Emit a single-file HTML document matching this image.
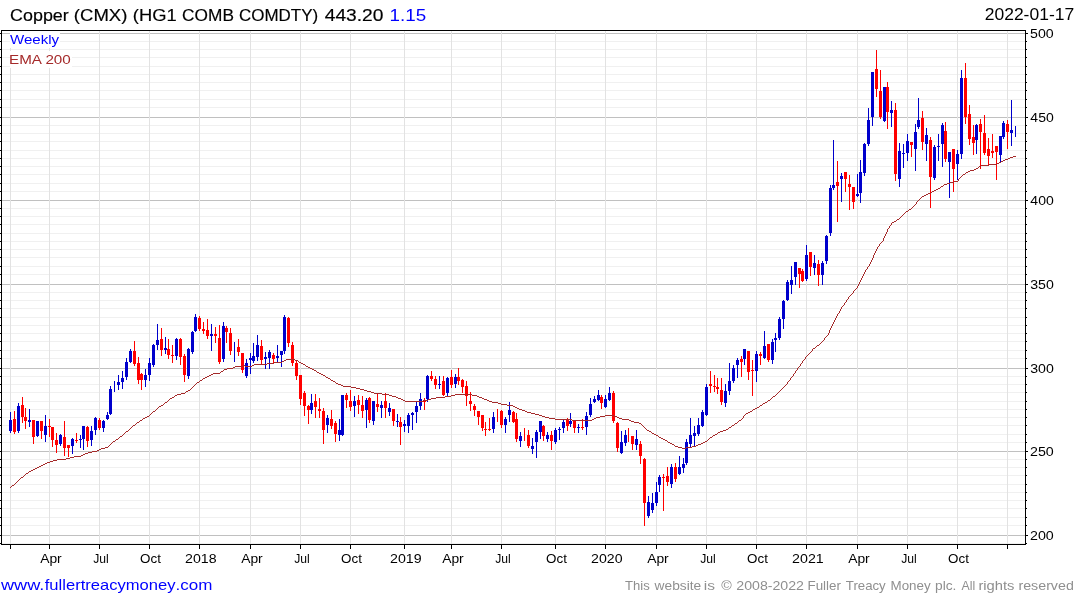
<!DOCTYPE html>
<html><head><meta charset="utf-8"><title>Copper (CMX)</title>
<style>
html,body{margin:0;padding:0;background:#fff;}
body{width:1075px;height:600px;overflow:hidden;}
svg{display:block;}
text{font-family:"Liberation Sans",sans-serif;}
</style></head><body>
<svg width="1075" height="600" viewBox="0 0 1075 600">
<rect width="1075" height="600" fill="#fff"/>
<g shape-rendering="crispEdges">
<rect x="2" y="41" width="1023" height="1" fill="#f0f0f0"/>
<rect x="2" y="49" width="1023" height="1" fill="#f0f0f0"/>
<rect x="2" y="57" width="1023" height="1" fill="#f0f0f0"/>
<rect x="2" y="66" width="1023" height="1" fill="#f0f0f0"/>
<rect x="2" y="74" width="1023" height="1" fill="#f0f0f0"/>
<rect x="2" y="82" width="1023" height="1" fill="#f0f0f0"/>
<rect x="2" y="90" width="1023" height="1" fill="#f0f0f0"/>
<rect x="2" y="99" width="1023" height="1" fill="#f0f0f0"/>
<rect x="2" y="107" width="1023" height="1" fill="#f0f0f0"/>
<rect x="2" y="125" width="1023" height="1" fill="#f0f0f0"/>
<rect x="2" y="133" width="1023" height="1" fill="#f0f0f0"/>
<rect x="2" y="141" width="1023" height="1" fill="#f0f0f0"/>
<rect x="2" y="150" width="1023" height="1" fill="#f0f0f0"/>
<rect x="2" y="158" width="1023" height="1" fill="#f0f0f0"/>
<rect x="2" y="166" width="1023" height="1" fill="#f0f0f0"/>
<rect x="2" y="174" width="1023" height="1" fill="#f0f0f0"/>
<rect x="2" y="183" width="1023" height="1" fill="#f0f0f0"/>
<rect x="2" y="191" width="1023" height="1" fill="#f0f0f0"/>
<rect x="2" y="208" width="1023" height="1" fill="#f0f0f0"/>
<rect x="2" y="216" width="1023" height="1" fill="#f0f0f0"/>
<rect x="2" y="224" width="1023" height="1" fill="#f0f0f0"/>
<rect x="2" y="233" width="1023" height="1" fill="#f0f0f0"/>
<rect x="2" y="241" width="1023" height="1" fill="#f0f0f0"/>
<rect x="2" y="249" width="1023" height="1" fill="#f0f0f0"/>
<rect x="2" y="257" width="1023" height="1" fill="#f0f0f0"/>
<rect x="2" y="266" width="1023" height="1" fill="#f0f0f0"/>
<rect x="2" y="274" width="1023" height="1" fill="#f0f0f0"/>
<rect x="2" y="292" width="1023" height="1" fill="#f0f0f0"/>
<rect x="2" y="300" width="1023" height="1" fill="#f0f0f0"/>
<rect x="2" y="308" width="1023" height="1" fill="#f0f0f0"/>
<rect x="2" y="317" width="1023" height="1" fill="#f0f0f0"/>
<rect x="2" y="325" width="1023" height="1" fill="#f0f0f0"/>
<rect x="2" y="333" width="1023" height="1" fill="#f0f0f0"/>
<rect x="2" y="341" width="1023" height="1" fill="#f0f0f0"/>
<rect x="2" y="350" width="1023" height="1" fill="#f0f0f0"/>
<rect x="2" y="358" width="1023" height="1" fill="#f0f0f0"/>
<rect x="2" y="376" width="1023" height="1" fill="#f0f0f0"/>
<rect x="2" y="384" width="1023" height="1" fill="#f0f0f0"/>
<rect x="2" y="392" width="1023" height="1" fill="#f0f0f0"/>
<rect x="2" y="401" width="1023" height="1" fill="#f0f0f0"/>
<rect x="2" y="409" width="1023" height="1" fill="#f0f0f0"/>
<rect x="2" y="417" width="1023" height="1" fill="#f0f0f0"/>
<rect x="2" y="425" width="1023" height="1" fill="#f0f0f0"/>
<rect x="2" y="434" width="1023" height="1" fill="#f0f0f0"/>
<rect x="2" y="442" width="1023" height="1" fill="#f0f0f0"/>
<rect x="2" y="459" width="1023" height="1" fill="#f0f0f0"/>
<rect x="2" y="467" width="1023" height="1" fill="#f0f0f0"/>
<rect x="2" y="475" width="1023" height="1" fill="#f0f0f0"/>
<rect x="2" y="484" width="1023" height="1" fill="#f0f0f0"/>
<rect x="2" y="492" width="1023" height="1" fill="#f0f0f0"/>
<rect x="2" y="500" width="1023" height="1" fill="#f0f0f0"/>
<rect x="2" y="508" width="1023" height="1" fill="#f0f0f0"/>
<rect x="2" y="517" width="1023" height="1" fill="#f0f0f0"/>
<rect x="2" y="525" width="1023" height="1" fill="#f0f0f0"/>
<rect x="2" y="543" width="1023" height="1" fill="#f0f0f0"/>
<rect x="2" y="33" width="1023" height="1" fill="#c0c0c0"/>
<rect x="2" y="117" width="1023" height="1" fill="#c0c0c0"/>
<rect x="2" y="200" width="1023" height="1" fill="#c0c0c0"/>
<rect x="2" y="284" width="1023" height="1" fill="#c0c0c0"/>
<rect x="2" y="368" width="1023" height="1" fill="#c0c0c0"/>
<rect x="2" y="451" width="1023" height="1" fill="#c0c0c0"/>
<rect x="2" y="535" width="1023" height="1" fill="#c0c0c0"/>
<rect x="10" y="31" width="1" height="513" fill="#e2e2e2"/>
<rect x="49" y="31" width="1" height="513" fill="#e2e2e2"/>
<rect x="99" y="31" width="1" height="513" fill="#e2e2e2"/>
<rect x="149" y="31" width="1" height="513" fill="#e2e2e2"/>
<rect x="199" y="31" width="1" height="513" fill="#e2e2e2"/>
<rect x="250" y="31" width="1" height="513" fill="#e2e2e2"/>
<rect x="300" y="31" width="1" height="513" fill="#e2e2e2"/>
<rect x="350" y="31" width="1" height="513" fill="#e2e2e2"/>
<rect x="404" y="31" width="1" height="513" fill="#e2e2e2"/>
<rect x="451" y="31" width="1" height="513" fill="#e2e2e2"/>
<rect x="501" y="31" width="1" height="513" fill="#e2e2e2"/>
<rect x="555" y="31" width="1" height="513" fill="#e2e2e2"/>
<rect x="605" y="31" width="1" height="513" fill="#e2e2e2"/>
<rect x="656" y="31" width="1" height="513" fill="#e2e2e2"/>
<rect x="706" y="31" width="1" height="513" fill="#e2e2e2"/>
<rect x="756" y="31" width="1" height="513" fill="#e2e2e2"/>
<rect x="806" y="31" width="1" height="513" fill="#e2e2e2"/>
<rect x="857" y="31" width="1" height="513" fill="#e2e2e2"/>
<rect x="907" y="31" width="1" height="513" fill="#e2e2e2"/>
<rect x="957" y="31" width="1" height="513" fill="#e2e2e2"/>
<rect x="1007" y="31" width="1" height="513" fill="#e2e2e2"/>
</g>
<g shape-rendering="crispEdges">
<rect x="10" y="412" width="1" height="21" fill="#0000cc"/>
<rect x="9" y="420" width="3" height="11" fill="#0000cc"/>
<rect x="14" y="411" width="1" height="23" fill="#ff0000"/>
<rect x="13" y="419" width="3" height="13" fill="#ff0000"/>
<rect x="18" y="403" width="1" height="30" fill="#0000cc"/>
<rect x="17" y="406" width="3" height="25" fill="#0000cc"/>
<rect x="22" y="397" width="1" height="26" fill="#ff0000"/>
<rect x="21" y="405" width="3" height="12" fill="#ff0000"/>
<rect x="25" y="408" width="1" height="21" fill="#ff0000"/>
<rect x="24" y="417" width="3" height="4" fill="#ff0000"/>
<rect x="29" y="409" width="1" height="18" fill="#0000cc"/>
<rect x="28" y="420" width="3" height="2" fill="#0000cc"/>
<rect x="33" y="420" width="1" height="24" fill="#ff0000"/>
<rect x="32" y="420" width="3" height="17" fill="#ff0000"/>
<rect x="37" y="421" width="1" height="16" fill="#0000cc"/>
<rect x="36" y="421" width="3" height="15" fill="#0000cc"/>
<rect x="41" y="421" width="1" height="18" fill="#ff0000"/>
<rect x="40" y="421" width="3" height="10" fill="#ff0000"/>
<rect x="45" y="415" width="1" height="27" fill="#0000cc"/>
<rect x="44" y="426" width="3" height="9" fill="#0000cc"/>
<rect x="49" y="419" width="1" height="18" fill="#ff0000"/>
<rect x="48" y="426" width="3" height="1" fill="#ff0000"/>
<rect x="52" y="427" width="1" height="20" fill="#ff0000"/>
<rect x="51" y="427" width="3" height="13" fill="#ff0000"/>
<rect x="56" y="433" width="1" height="20" fill="#ff0000"/>
<rect x="55" y="440" width="3" height="5" fill="#ff0000"/>
<rect x="60" y="434" width="1" height="12" fill="#0000cc"/>
<rect x="59" y="435" width="3" height="9" fill="#0000cc"/>
<rect x="64" y="421" width="1" height="35" fill="#ff0000"/>
<rect x="63" y="437" width="3" height="11" fill="#ff0000"/>
<rect x="68" y="445" width="1" height="12" fill="#ff0000"/>
<rect x="67" y="445" width="3" height="3" fill="#ff0000"/>
<rect x="72" y="438" width="1" height="16" fill="#0000cc"/>
<rect x="71" y="439" width="3" height="7" fill="#0000cc"/>
<rect x="76" y="433" width="1" height="10" fill="#ff0000"/>
<rect x="75" y="440" width="3" height="1" fill="#ff0000"/>
<rect x="80" y="435" width="1" height="13" fill="#0000cc"/>
<rect x="79" y="439" width="3" height="1" fill="#0000cc"/>
<rect x="83" y="426" width="1" height="24" fill="#0000cc"/>
<rect x="82" y="426" width="3" height="13" fill="#0000cc"/>
<rect x="87" y="426" width="1" height="21" fill="#ff0000"/>
<rect x="86" y="427" width="3" height="14" fill="#ff0000"/>
<rect x="91" y="426" width="1" height="20" fill="#0000cc"/>
<rect x="90" y="431" width="3" height="9" fill="#0000cc"/>
<rect x="95" y="417" width="1" height="18" fill="#0000cc"/>
<rect x="94" y="418" width="3" height="12" fill="#0000cc"/>
<rect x="99" y="418" width="1" height="12" fill="#ff0000"/>
<rect x="98" y="420" width="3" height="8" fill="#ff0000"/>
<rect x="103" y="420" width="1" height="12" fill="#0000cc"/>
<rect x="102" y="421" width="3" height="7" fill="#0000cc"/>
<rect x="107" y="412" width="1" height="8" fill="#0000cc"/>
<rect x="106" y="415" width="3" height="4" fill="#0000cc"/>
<rect x="110" y="386" width="1" height="29" fill="#0000cc"/>
<rect x="109" y="389" width="3" height="25" fill="#0000cc"/>
<rect x="114" y="381" width="1" height="11" fill="#0000cc"/>
<rect x="118" y="375" width="1" height="15" fill="#0000cc"/>
<rect x="117" y="382" width="3" height="3" fill="#0000cc"/>
<rect x="122" y="371" width="1" height="18" fill="#0000cc"/>
<rect x="121" y="378" width="3" height="4" fill="#0000cc"/>
<rect x="126" y="358" width="1" height="22" fill="#0000cc"/>
<rect x="125" y="362" width="3" height="15" fill="#0000cc"/>
<rect x="130" y="349" width="1" height="14" fill="#0000cc"/>
<rect x="129" y="351" width="3" height="11" fill="#0000cc"/>
<rect x="134" y="341" width="1" height="25" fill="#ff0000"/>
<rect x="133" y="351" width="3" height="13" fill="#ff0000"/>
<rect x="138" y="357" width="1" height="27" fill="#ff0000"/>
<rect x="137" y="363" width="3" height="17" fill="#ff0000"/>
<rect x="141" y="373" width="1" height="17" fill="#ff0000"/>
<rect x="140" y="374" width="3" height="6" fill="#ff0000"/>
<rect x="145" y="369" width="1" height="18" fill="#0000cc"/>
<rect x="144" y="375" width="3" height="5" fill="#0000cc"/>
<rect x="149" y="358" width="1" height="23" fill="#0000cc"/>
<rect x="148" y="363" width="3" height="12" fill="#0000cc"/>
<rect x="153" y="344" width="1" height="23" fill="#0000cc"/>
<rect x="152" y="345" width="3" height="20" fill="#0000cc"/>
<rect x="157" y="324" width="1" height="26" fill="#0000cc"/>
<rect x="156" y="340" width="3" height="5" fill="#0000cc"/>
<rect x="161" y="328" width="1" height="28" fill="#ff0000"/>
<rect x="160" y="339" width="3" height="11" fill="#ff0000"/>
<rect x="165" y="337" width="1" height="17" fill="#0000cc"/>
<rect x="164" y="348" width="3" height="2" fill="#0000cc"/>
<rect x="168" y="339" width="1" height="20" fill="#ff0000"/>
<rect x="167" y="349" width="3" height="6" fill="#ff0000"/>
<rect x="172" y="345" width="1" height="18" fill="#ff0000"/>
<rect x="171" y="355" width="3" height="1" fill="#ff0000"/>
<rect x="176" y="338" width="1" height="22" fill="#0000cc"/>
<rect x="175" y="339" width="3" height="17" fill="#0000cc"/>
<rect x="180" y="338" width="1" height="27" fill="#ff0000"/>
<rect x="179" y="339" width="3" height="18" fill="#ff0000"/>
<rect x="184" y="354" width="1" height="28" fill="#ff0000"/>
<rect x="183" y="356" width="3" height="19" fill="#ff0000"/>
<rect x="188" y="348" width="1" height="31" fill="#0000cc"/>
<rect x="187" y="349" width="3" height="27" fill="#0000cc"/>
<rect x="192" y="331" width="1" height="23" fill="#0000cc"/>
<rect x="191" y="332" width="3" height="20" fill="#0000cc"/>
<rect x="195" y="314" width="1" height="18" fill="#0000cc"/>
<rect x="194" y="317" width="3" height="14" fill="#0000cc"/>
<rect x="199" y="316" width="1" height="15" fill="#ff0000"/>
<rect x="198" y="318" width="3" height="11" fill="#ff0000"/>
<rect x="203" y="322" width="1" height="12" fill="#ff0000"/>
<rect x="202" y="329" width="3" height="2" fill="#ff0000"/>
<rect x="207" y="319" width="1" height="20" fill="#ff0000"/>
<rect x="206" y="330" width="3" height="6" fill="#ff0000"/>
<rect x="211" y="324" width="1" height="27" fill="#0000cc"/>
<rect x="210" y="334" width="3" height="2" fill="#0000cc"/>
<rect x="215" y="327" width="1" height="16" fill="#ff0000"/>
<rect x="214" y="334" width="3" height="2" fill="#ff0000"/>
<rect x="219" y="325" width="1" height="39" fill="#ff0000"/>
<rect x="218" y="338" width="3" height="24" fill="#ff0000"/>
<rect x="223" y="322" width="1" height="40" fill="#0000cc"/>
<rect x="222" y="326" width="3" height="33" fill="#0000cc"/>
<rect x="226" y="326" width="1" height="17" fill="#ff0000"/>
<rect x="225" y="328" width="3" height="4" fill="#ff0000"/>
<rect x="230" y="328" width="1" height="27" fill="#ff0000"/>
<rect x="229" y="333" width="3" height="18" fill="#ff0000"/>
<rect x="234" y="342" width="1" height="20" fill="#0000cc"/>
<rect x="238" y="339" width="1" height="17" fill="#ff0000"/>
<rect x="237" y="347" width="3" height="5" fill="#ff0000"/>
<rect x="242" y="353" width="1" height="20" fill="#ff0000"/>
<rect x="241" y="353" width="3" height="17" fill="#ff0000"/>
<rect x="246" y="359" width="1" height="19" fill="#0000cc"/>
<rect x="245" y="363" width="3" height="13" fill="#0000cc"/>
<rect x="250" y="353" width="1" height="21" fill="#0000cc"/>
<rect x="249" y="358" width="3" height="2" fill="#0000cc"/>
<rect x="253" y="343" width="1" height="20" fill="#0000cc"/>
<rect x="252" y="356" width="3" height="5" fill="#0000cc"/>
<rect x="257" y="335" width="1" height="26" fill="#0000cc"/>
<rect x="256" y="345" width="3" height="12" fill="#0000cc"/>
<rect x="261" y="340" width="1" height="24" fill="#ff0000"/>
<rect x="260" y="346" width="3" height="14" fill="#ff0000"/>
<rect x="265" y="352" width="1" height="17" fill="#0000cc"/>
<rect x="264" y="357" width="3" height="2" fill="#0000cc"/>
<rect x="269" y="350" width="1" height="19" fill="#0000cc"/>
<rect x="268" y="352" width="3" height="6" fill="#0000cc"/>
<rect x="273" y="353" width="1" height="11" fill="#ff0000"/>
<rect x="272" y="355" width="3" height="4" fill="#ff0000"/>
<rect x="277" y="345" width="1" height="17" fill="#0000cc"/>
<rect x="276" y="356" width="3" height="2" fill="#0000cc"/>
<rect x="281" y="351" width="1" height="16" fill="#0000cc"/>
<rect x="280" y="351" width="3" height="4" fill="#0000cc"/>
<rect x="284" y="315" width="1" height="39" fill="#0000cc"/>
<rect x="283" y="317" width="3" height="34" fill="#0000cc"/>
<rect x="288" y="317" width="1" height="30" fill="#ff0000"/>
<rect x="287" y="318" width="3" height="25" fill="#ff0000"/>
<rect x="292" y="342" width="1" height="24" fill="#ff0000"/>
<rect x="291" y="345" width="3" height="18" fill="#ff0000"/>
<rect x="296" y="361" width="1" height="19" fill="#ff0000"/>
<rect x="295" y="363" width="3" height="13" fill="#ff0000"/>
<rect x="300" y="375" width="1" height="30" fill="#ff0000"/>
<rect x="299" y="375" width="3" height="24" fill="#ff0000"/>
<rect x="304" y="391" width="1" height="25" fill="#ff0000"/>
<rect x="303" y="393" width="3" height="13" fill="#ff0000"/>
<rect x="308" y="405" width="1" height="19" fill="#ff0000"/>
<rect x="307" y="406" width="3" height="4" fill="#ff0000"/>
<rect x="311" y="394" width="1" height="20" fill="#0000cc"/>
<rect x="310" y="403" width="3" height="7" fill="#0000cc"/>
<rect x="315" y="394" width="1" height="24" fill="#ff0000"/>
<rect x="314" y="401" width="3" height="6" fill="#ff0000"/>
<rect x="319" y="398" width="1" height="20" fill="#ff0000"/>
<rect x="318" y="409" width="3" height="2" fill="#ff0000"/>
<rect x="323" y="408" width="1" height="36" fill="#ff0000"/>
<rect x="322" y="411" width="3" height="19" fill="#ff0000"/>
<rect x="327" y="415" width="1" height="18" fill="#0000cc"/>
<rect x="326" y="418" width="3" height="7" fill="#0000cc"/>
<rect x="331" y="410" width="1" height="19" fill="#ff0000"/>
<rect x="330" y="419" width="3" height="7" fill="#ff0000"/>
<rect x="335" y="421" width="1" height="21" fill="#ff0000"/>
<rect x="334" y="423" width="3" height="11" fill="#ff0000"/>
<rect x="339" y="419" width="1" height="22" fill="#0000cc"/>
<rect x="338" y="430" width="3" height="5" fill="#0000cc"/>
<rect x="342" y="395" width="1" height="41" fill="#0000cc"/>
<rect x="341" y="395" width="3" height="40" fill="#0000cc"/>
<rect x="346" y="393" width="1" height="15" fill="#ff0000"/>
<rect x="345" y="395" width="3" height="5" fill="#ff0000"/>
<rect x="350" y="390" width="1" height="21" fill="#ff0000"/>
<rect x="349" y="401" width="3" height="6" fill="#ff0000"/>
<rect x="354" y="396" width="1" height="21" fill="#0000cc"/>
<rect x="353" y="401" width="3" height="5" fill="#0000cc"/>
<rect x="358" y="395" width="1" height="19" fill="#ff0000"/>
<rect x="357" y="400" width="3" height="5" fill="#ff0000"/>
<rect x="362" y="396" width="1" height="22" fill="#ff0000"/>
<rect x="361" y="405" width="3" height="6" fill="#ff0000"/>
<rect x="366" y="398" width="1" height="30" fill="#0000cc"/>
<rect x="365" y="400" width="3" height="10" fill="#0000cc"/>
<rect x="369" y="397" width="1" height="26" fill="#ff0000"/>
<rect x="368" y="398" width="3" height="22" fill="#ff0000"/>
<rect x="373" y="401" width="1" height="24" fill="#0000cc"/>
<rect x="372" y="401" width="3" height="20" fill="#0000cc"/>
<rect x="377" y="394" width="1" height="18" fill="#ff0000"/>
<rect x="376" y="404" width="3" height="3" fill="#ff0000"/>
<rect x="381" y="401" width="1" height="17" fill="#0000cc"/>
<rect x="380" y="405" width="3" height="3" fill="#0000cc"/>
<rect x="385" y="393" width="1" height="25" fill="#ff0000"/>
<rect x="384" y="401" width="3" height="7" fill="#ff0000"/>
<rect x="389" y="403" width="1" height="13" fill="#0000cc"/>
<rect x="388" y="408" width="3" height="4" fill="#0000cc"/>
<rect x="393" y="409" width="1" height="17" fill="#ff0000"/>
<rect x="392" y="409" width="3" height="12" fill="#ff0000"/>
<rect x="397" y="414" width="1" height="13" fill="#0000cc"/>
<rect x="396" y="421" width="3" height="1" fill="#0000cc"/>
<rect x="400" y="417" width="1" height="28" fill="#ff0000"/>
<rect x="399" y="422" width="3" height="5" fill="#ff0000"/>
<rect x="404" y="420" width="1" height="12" fill="#0000cc"/>
<rect x="403" y="424" width="3" height="2" fill="#0000cc"/>
<rect x="408" y="413" width="1" height="20" fill="#0000cc"/>
<rect x="407" y="415" width="3" height="11" fill="#0000cc"/>
<rect x="412" y="412" width="1" height="18" fill="#0000cc"/>
<rect x="411" y="413" width="3" height="2" fill="#0000cc"/>
<rect x="416" y="402" width="1" height="21" fill="#0000cc"/>
<rect x="415" y="406" width="3" height="6" fill="#0000cc"/>
<rect x="420" y="393" width="1" height="17" fill="#0000cc"/>
<rect x="419" y="399" width="3" height="7" fill="#0000cc"/>
<rect x="424" y="398" width="1" height="12" fill="#ff0000"/>
<rect x="423" y="400" width="3" height="2" fill="#ff0000"/>
<rect x="427" y="375" width="1" height="27" fill="#0000cc"/>
<rect x="426" y="376" width="3" height="23" fill="#0000cc"/>
<rect x="431" y="371" width="1" height="10" fill="#ff0000"/>
<rect x="430" y="376" width="3" height="3" fill="#ff0000"/>
<rect x="435" y="376" width="1" height="13" fill="#ff0000"/>
<rect x="434" y="379" width="3" height="6" fill="#ff0000"/>
<rect x="439" y="376" width="1" height="13" fill="#0000cc"/>
<rect x="438" y="384" width="3" height="1" fill="#0000cc"/>
<rect x="443" y="376" width="1" height="20" fill="#ff0000"/>
<rect x="442" y="381" width="3" height="14" fill="#ff0000"/>
<rect x="447" y="377" width="1" height="20" fill="#0000cc"/>
<rect x="446" y="378" width="3" height="15" fill="#0000cc"/>
<rect x="451" y="370" width="1" height="18" fill="#ff0000"/>
<rect x="450" y="377" width="3" height="8" fill="#ff0000"/>
<rect x="455" y="374" width="1" height="14" fill="#0000cc"/>
<rect x="454" y="377" width="3" height="7" fill="#0000cc"/>
<rect x="458" y="368" width="1" height="17" fill="#ff0000"/>
<rect x="457" y="377" width="3" height="4" fill="#ff0000"/>
<rect x="462" y="379" width="1" height="14" fill="#ff0000"/>
<rect x="461" y="380" width="3" height="7" fill="#ff0000"/>
<rect x="466" y="381" width="1" height="25" fill="#ff0000"/>
<rect x="465" y="386" width="3" height="10" fill="#ff0000"/>
<rect x="470" y="392" width="1" height="19" fill="#ff0000"/>
<rect x="469" y="401" width="3" height="3" fill="#ff0000"/>
<rect x="474" y="404" width="1" height="12" fill="#ff0000"/>
<rect x="473" y="406" width="3" height="4" fill="#ff0000"/>
<rect x="478" y="411" width="1" height="14" fill="#ff0000"/>
<rect x="477" y="411" width="3" height="6" fill="#ff0000"/>
<rect x="482" y="415" width="1" height="16" fill="#ff0000"/>
<rect x="481" y="415" width="3" height="13" fill="#ff0000"/>
<rect x="485" y="422" width="1" height="14" fill="#ff0000"/>
<rect x="484" y="429" width="3" height="1" fill="#ff0000"/>
<rect x="489" y="418" width="1" height="13" fill="#ff0000"/>
<rect x="488" y="429" width="3" height="1" fill="#ff0000"/>
<rect x="493" y="412" width="1" height="21" fill="#0000cc"/>
<rect x="492" y="417" width="3" height="12" fill="#0000cc"/>
<rect x="497" y="409" width="1" height="13" fill="#ff0000"/>
<rect x="501" y="410" width="1" height="18" fill="#ff0000"/>
<rect x="500" y="411" width="3" height="14" fill="#ff0000"/>
<rect x="505" y="417" width="1" height="16" fill="#0000cc"/>
<rect x="504" y="419" width="3" height="6" fill="#0000cc"/>
<rect x="509" y="402" width="1" height="20" fill="#0000cc"/>
<rect x="508" y="410" width="3" height="5" fill="#0000cc"/>
<rect x="513" y="411" width="1" height="12" fill="#ff0000"/>
<rect x="512" y="412" width="3" height="10" fill="#ff0000"/>
<rect x="516" y="413" width="1" height="29" fill="#ff0000"/>
<rect x="515" y="419" width="3" height="20" fill="#ff0000"/>
<rect x="520" y="432" width="1" height="15" fill="#0000cc"/>
<rect x="519" y="436" width="3" height="5" fill="#0000cc"/>
<rect x="524" y="428" width="1" height="13" fill="#ff0000"/>
<rect x="528" y="430" width="1" height="18" fill="#ff0000"/>
<rect x="527" y="435" width="3" height="11" fill="#ff0000"/>
<rect x="532" y="438" width="1" height="16" fill="#0000cc"/>
<rect x="531" y="446" width="3" height="3" fill="#0000cc"/>
<rect x="536" y="430" width="1" height="28" fill="#0000cc"/>
<rect x="535" y="432" width="3" height="10" fill="#0000cc"/>
<rect x="540" y="421" width="1" height="18" fill="#0000cc"/>
<rect x="539" y="421" width="3" height="11" fill="#0000cc"/>
<rect x="543" y="425" width="1" height="16" fill="#ff0000"/>
<rect x="542" y="426" width="3" height="10" fill="#ff0000"/>
<rect x="547" y="432" width="1" height="10" fill="#0000cc"/>
<rect x="546" y="435" width="3" height="4" fill="#0000cc"/>
<rect x="551" y="431" width="1" height="19" fill="#ff0000"/>
<rect x="550" y="435" width="3" height="6" fill="#ff0000"/>
<rect x="555" y="428" width="1" height="16" fill="#0000cc"/>
<rect x="554" y="430" width="3" height="12" fill="#0000cc"/>
<rect x="559" y="427" width="1" height="13" fill="#0000cc"/>
<rect x="558" y="429" width="3" height="1" fill="#0000cc"/>
<rect x="563" y="420" width="1" height="13" fill="#0000cc"/>
<rect x="562" y="422" width="3" height="6" fill="#0000cc"/>
<rect x="567" y="418" width="1" height="13" fill="#ff0000"/>
<rect x="566" y="419" width="3" height="7" fill="#ff0000"/>
<rect x="570" y="413" width="1" height="14" fill="#0000cc"/>
<rect x="569" y="421" width="3" height="3" fill="#0000cc"/>
<rect x="574" y="421" width="1" height="12" fill="#ff0000"/>
<rect x="573" y="421" width="3" height="7" fill="#ff0000"/>
<rect x="578" y="424" width="1" height="9" fill="#0000cc"/>
<rect x="577" y="427" width="3" height="1" fill="#0000cc"/>
<rect x="582" y="419" width="1" height="11" fill="#ff0000"/>
<rect x="581" y="427" width="3" height="1" fill="#ff0000"/>
<rect x="586" y="412" width="1" height="23" fill="#0000cc"/>
<rect x="585" y="416" width="3" height="11" fill="#0000cc"/>
<rect x="590" y="398" width="1" height="19" fill="#0000cc"/>
<rect x="589" y="404" width="3" height="11" fill="#0000cc"/>
<rect x="594" y="396" width="1" height="7" fill="#0000cc"/>
<rect x="593" y="399" width="3" height="3" fill="#0000cc"/>
<rect x="598" y="390" width="1" height="11" fill="#0000cc"/>
<rect x="597" y="395" width="3" height="5" fill="#0000cc"/>
<rect x="601" y="395" width="1" height="14" fill="#ff0000"/>
<rect x="600" y="397" width="3" height="6" fill="#ff0000"/>
<rect x="605" y="395" width="1" height="13" fill="#0000cc"/>
<rect x="604" y="399" width="3" height="8" fill="#0000cc"/>
<rect x="609" y="387" width="1" height="14" fill="#0000cc"/>
<rect x="608" y="393" width="3" height="7" fill="#0000cc"/>
<rect x="613" y="391" width="1" height="32" fill="#ff0000"/>
<rect x="612" y="393" width="3" height="28" fill="#ff0000"/>
<rect x="617" y="422" width="1" height="30" fill="#ff0000"/>
<rect x="616" y="423" width="3" height="25" fill="#ff0000"/>
<rect x="621" y="431" width="1" height="23" fill="#0000cc"/>
<rect x="620" y="442" width="3" height="11" fill="#0000cc"/>
<rect x="625" y="430" width="1" height="16" fill="#0000cc"/>
<rect x="624" y="435" width="3" height="8" fill="#0000cc"/>
<rect x="628" y="428" width="1" height="14" fill="#ff0000"/>
<rect x="632" y="436" width="1" height="14" fill="#ff0000"/>
<rect x="631" y="436" width="3" height="8" fill="#ff0000"/>
<rect x="636" y="430" width="1" height="20" fill="#0000cc"/>
<rect x="635" y="439" width="3" height="6" fill="#0000cc"/>
<rect x="640" y="441" width="1" height="23" fill="#ff0000"/>
<rect x="639" y="444" width="3" height="12" fill="#ff0000"/>
<rect x="644" y="458" width="1" height="68" fill="#ff0000"/>
<rect x="643" y="459" width="3" height="44" fill="#ff0000"/>
<rect x="648" y="496" width="1" height="22" fill="#0000cc"/>
<rect x="647" y="502" width="3" height="14" fill="#0000cc"/>
<rect x="652" y="493" width="1" height="20" fill="#0000cc"/>
<rect x="651" y="503" width="3" height="7" fill="#0000cc"/>
<rect x="656" y="482" width="1" height="24" fill="#0000cc"/>
<rect x="655" y="492" width="3" height="11" fill="#0000cc"/>
<rect x="659" y="475" width="1" height="17" fill="#0000cc"/>
<rect x="658" y="477" width="3" height="8" fill="#0000cc"/>
<rect x="663" y="474" width="1" height="37" fill="#ff0000"/>
<rect x="662" y="477" width="3" height="1" fill="#ff0000"/>
<rect x="667" y="467" width="1" height="19" fill="#ff0000"/>
<rect x="666" y="476" width="3" height="6" fill="#ff0000"/>
<rect x="671" y="464" width="1" height="24" fill="#0000cc"/>
<rect x="670" y="467" width="3" height="17" fill="#0000cc"/>
<rect x="675" y="463" width="1" height="19" fill="#ff0000"/>
<rect x="674" y="467" width="3" height="12" fill="#ff0000"/>
<rect x="679" y="456" width="1" height="19" fill="#0000cc"/>
<rect x="678" y="467" width="3" height="7" fill="#0000cc"/>
<rect x="683" y="458" width="1" height="15" fill="#0000cc"/>
<rect x="682" y="464" width="3" height="4" fill="#0000cc"/>
<rect x="686" y="439" width="1" height="26" fill="#0000cc"/>
<rect x="685" y="442" width="3" height="21" fill="#0000cc"/>
<rect x="690" y="418" width="1" height="29" fill="#0000cc"/>
<rect x="689" y="435" width="3" height="9" fill="#0000cc"/>
<rect x="694" y="426" width="1" height="20" fill="#0000cc"/>
<rect x="693" y="433" width="3" height="3" fill="#0000cc"/>
<rect x="698" y="418" width="1" height="18" fill="#0000cc"/>
<rect x="697" y="425" width="3" height="9" fill="#0000cc"/>
<rect x="702" y="410" width="1" height="17" fill="#0000cc"/>
<rect x="701" y="412" width="3" height="14" fill="#0000cc"/>
<rect x="706" y="384" width="1" height="32" fill="#0000cc"/>
<rect x="705" y="387" width="3" height="28" fill="#0000cc"/>
<rect x="710" y="371" width="1" height="22" fill="#ff0000"/>
<rect x="709" y="384" width="3" height="2" fill="#ff0000"/>
<rect x="714" y="375" width="1" height="17" fill="#ff0000"/>
<rect x="713" y="386" width="3" height="1" fill="#ff0000"/>
<rect x="717" y="378" width="1" height="16" fill="#ff0000"/>
<rect x="716" y="387" width="3" height="2" fill="#ff0000"/>
<rect x="721" y="378" width="1" height="27" fill="#ff0000"/>
<rect x="720" y="390" width="3" height="12" fill="#ff0000"/>
<rect x="725" y="384" width="1" height="23" fill="#0000cc"/>
<rect x="724" y="391" width="3" height="12" fill="#0000cc"/>
<rect x="729" y="363" width="1" height="32" fill="#0000cc"/>
<rect x="728" y="381" width="3" height="10" fill="#0000cc"/>
<rect x="733" y="365" width="1" height="18" fill="#0000cc"/>
<rect x="732" y="368" width="3" height="13" fill="#0000cc"/>
<rect x="737" y="358" width="1" height="20" fill="#0000cc"/>
<rect x="736" y="360" width="3" height="5" fill="#0000cc"/>
<rect x="741" y="356" width="1" height="21" fill="#ff0000"/>
<rect x="740" y="359" width="3" height="3" fill="#ff0000"/>
<rect x="744" y="349" width="1" height="16" fill="#0000cc"/>
<rect x="743" y="349" width="3" height="10" fill="#0000cc"/>
<rect x="748" y="351" width="1" height="29" fill="#ff0000"/>
<rect x="747" y="351" width="3" height="21" fill="#ff0000"/>
<rect x="752" y="360" width="1" height="36" fill="#ff0000"/>
<rect x="751" y="370" width="3" height="1" fill="#ff0000"/>
<rect x="756" y="351" width="1" height="31" fill="#0000cc"/>
<rect x="755" y="354" width="3" height="17" fill="#0000cc"/>
<rect x="760" y="352" width="1" height="13" fill="#ff0000"/>
<rect x="759" y="354" width="3" height="2" fill="#ff0000"/>
<rect x="764" y="331" width="1" height="28" fill="#0000cc"/>
<rect x="763" y="346" width="3" height="12" fill="#0000cc"/>
<rect x="768" y="344" width="1" height="18" fill="#ff0000"/>
<rect x="767" y="344" width="3" height="16" fill="#ff0000"/>
<rect x="772" y="339" width="1" height="25" fill="#0000cc"/>
<rect x="771" y="342" width="3" height="18" fill="#0000cc"/>
<rect x="775" y="333" width="1" height="19" fill="#0000cc"/>
<rect x="774" y="338" width="3" height="2" fill="#0000cc"/>
<rect x="779" y="317" width="1" height="23" fill="#0000cc"/>
<rect x="778" y="319" width="3" height="19" fill="#0000cc"/>
<rect x="783" y="300" width="1" height="29" fill="#0000cc"/>
<rect x="782" y="301" width="3" height="18" fill="#0000cc"/>
<rect x="787" y="280" width="1" height="21" fill="#0000cc"/>
<rect x="786" y="282" width="3" height="18" fill="#0000cc"/>
<rect x="791" y="266" width="1" height="28" fill="#0000cc"/>
<rect x="790" y="280" width="3" height="5" fill="#0000cc"/>
<rect x="795" y="262" width="1" height="23" fill="#0000cc"/>
<rect x="794" y="262" width="3" height="15" fill="#0000cc"/>
<rect x="799" y="268" width="1" height="20" fill="#ff0000"/>
<rect x="798" y="268" width="3" height="6" fill="#ff0000"/>
<rect x="802" y="269" width="1" height="13" fill="#ff0000"/>
<rect x="801" y="271" width="3" height="10" fill="#ff0000"/>
<rect x="806" y="245" width="1" height="36" fill="#0000cc"/>
<rect x="805" y="255" width="3" height="24" fill="#0000cc"/>
<rect x="810" y="252" width="1" height="24" fill="#ff0000"/>
<rect x="809" y="252" width="3" height="15" fill="#ff0000"/>
<rect x="814" y="255" width="1" height="20" fill="#0000cc"/>
<rect x="813" y="263" width="3" height="5" fill="#0000cc"/>
<rect x="818" y="260" width="1" height="26" fill="#ff0000"/>
<rect x="817" y="264" width="3" height="11" fill="#ff0000"/>
<rect x="822" y="261" width="1" height="24" fill="#0000cc"/>
<rect x="821" y="263" width="3" height="12" fill="#0000cc"/>
<rect x="826" y="235" width="1" height="29" fill="#0000cc"/>
<rect x="825" y="236" width="3" height="25" fill="#0000cc"/>
<rect x="830" y="185" width="1" height="51" fill="#0000cc"/>
<rect x="829" y="188" width="3" height="45" fill="#0000cc"/>
<rect x="833" y="140" width="1" height="50" fill="#0000cc"/>
<rect x="832" y="185" width="3" height="3" fill="#0000cc"/>
<rect x="837" y="161" width="1" height="61" fill="#ff0000"/>
<rect x="836" y="182" width="3" height="4" fill="#ff0000"/>
<rect x="841" y="173" width="1" height="29" fill="#0000cc"/>
<rect x="840" y="176" width="3" height="3" fill="#0000cc"/>
<rect x="845" y="172" width="1" height="20" fill="#ff0000"/>
<rect x="844" y="172" width="3" height="7" fill="#ff0000"/>
<rect x="849" y="175" width="1" height="35" fill="#ff0000"/>
<rect x="848" y="184" width="3" height="3" fill="#ff0000"/>
<rect x="853" y="187" width="1" height="22" fill="#ff0000"/>
<rect x="852" y="187" width="3" height="15" fill="#ff0000"/>
<rect x="857" y="174" width="1" height="23" fill="#0000cc"/>
<rect x="856" y="194" width="3" height="2" fill="#0000cc"/>
<rect x="860" y="160" width="1" height="43" fill="#0000cc"/>
<rect x="859" y="172" width="3" height="21" fill="#0000cc"/>
<rect x="864" y="143" width="1" height="33" fill="#0000cc"/>
<rect x="863" y="144" width="3" height="29" fill="#0000cc"/>
<rect x="868" y="108" width="1" height="38" fill="#0000cc"/>
<rect x="867" y="120" width="3" height="24" fill="#0000cc"/>
<rect x="872" y="72" width="1" height="54" fill="#0000cc"/>
<rect x="871" y="72" width="3" height="45" fill="#0000cc"/>
<rect x="876" y="50" width="1" height="47" fill="#ff0000"/>
<rect x="875" y="69" width="3" height="20" fill="#ff0000"/>
<rect x="880" y="70" width="1" height="49" fill="#ff0000"/>
<rect x="879" y="91" width="3" height="26" fill="#ff0000"/>
<rect x="884" y="87" width="1" height="35" fill="#0000cc"/>
<rect x="883" y="87" width="3" height="34" fill="#0000cc"/>
<rect x="887" y="82" width="1" height="47" fill="#ff0000"/>
<rect x="886" y="87" width="3" height="25" fill="#ff0000"/>
<rect x="891" y="101" width="1" height="26" fill="#0000cc"/>
<rect x="890" y="110" width="3" height="3" fill="#0000cc"/>
<rect x="895" y="103" width="1" height="78" fill="#ff0000"/>
<rect x="894" y="110" width="3" height="64" fill="#ff0000"/>
<rect x="899" y="143" width="1" height="44" fill="#0000cc"/>
<rect x="898" y="151" width="3" height="28" fill="#0000cc"/>
<rect x="903" y="144" width="1" height="24" fill="#0000cc"/>
<rect x="902" y="153" width="3" height="1" fill="#0000cc"/>
<rect x="907" y="134" width="1" height="27" fill="#0000cc"/>
<rect x="906" y="141" width="3" height="12" fill="#0000cc"/>
<rect x="911" y="142" width="1" height="15" fill="#ff0000"/>
<rect x="910" y="142" width="3" height="3" fill="#ff0000"/>
<rect x="915" y="124" width="1" height="47" fill="#0000cc"/>
<rect x="914" y="132" width="3" height="17" fill="#0000cc"/>
<rect x="918" y="98" width="1" height="31" fill="#0000cc"/>
<rect x="917" y="120" width="3" height="7" fill="#0000cc"/>
<rect x="922" y="111" width="1" height="39" fill="#ff0000"/>
<rect x="921" y="118" width="3" height="24" fill="#ff0000"/>
<rect x="926" y="128" width="1" height="33" fill="#0000cc"/>
<rect x="925" y="135" width="3" height="9" fill="#0000cc"/>
<rect x="930" y="137" width="1" height="71" fill="#ff0000"/>
<rect x="929" y="140" width="3" height="37" fill="#ff0000"/>
<rect x="934" y="145" width="1" height="35" fill="#0000cc"/>
<rect x="933" y="147" width="3" height="31" fill="#0000cc"/>
<rect x="938" y="134" width="1" height="27" fill="#0000cc"/>
<rect x="937" y="146" width="3" height="1" fill="#0000cc"/>
<rect x="942" y="123" width="1" height="44" fill="#0000cc"/>
<rect x="941" y="125" width="3" height="19" fill="#0000cc"/>
<rect x="945" y="122" width="1" height="40" fill="#ff0000"/>
<rect x="944" y="131" width="3" height="28" fill="#ff0000"/>
<rect x="949" y="152" width="1" height="46" fill="#0000cc"/>
<rect x="948" y="152" width="3" height="10" fill="#0000cc"/>
<rect x="953" y="149" width="1" height="43" fill="#ff0000"/>
<rect x="952" y="149" width="3" height="20" fill="#ff0000"/>
<rect x="957" y="150" width="1" height="30" fill="#0000cc"/>
<rect x="956" y="154" width="3" height="10" fill="#0000cc"/>
<rect x="961" y="70" width="1" height="89" fill="#0000cc"/>
<rect x="960" y="78" width="3" height="76" fill="#0000cc"/>
<rect x="965" y="63" width="1" height="61" fill="#ff0000"/>
<rect x="964" y="78" width="3" height="39" fill="#ff0000"/>
<rect x="969" y="105" width="1" height="40" fill="#ff0000"/>
<rect x="968" y="114" width="3" height="25" fill="#ff0000"/>
<rect x="973" y="125" width="1" height="30" fill="#ff0000"/>
<rect x="972" y="137" width="3" height="6" fill="#ff0000"/>
<rect x="976" y="124" width="1" height="30" fill="#0000cc"/>
<rect x="975" y="125" width="3" height="15" fill="#0000cc"/>
<rect x="980" y="119" width="1" height="50" fill="#ff0000"/>
<rect x="979" y="124" width="3" height="8" fill="#ff0000"/>
<rect x="984" y="115" width="1" height="40" fill="#ff0000"/>
<rect x="983" y="133" width="3" height="20" fill="#ff0000"/>
<rect x="988" y="138" width="1" height="27" fill="#ff0000"/>
<rect x="987" y="149" width="3" height="7" fill="#ff0000"/>
<rect x="992" y="134" width="1" height="24" fill="#ff0000"/>
<rect x="991" y="151" width="3" height="2" fill="#ff0000"/>
<rect x="996" y="146" width="1" height="34" fill="#ff0000"/>
<rect x="995" y="146" width="3" height="6" fill="#ff0000"/>
<rect x="1000" y="136" width="1" height="26" fill="#0000cc"/>
<rect x="999" y="136" width="3" height="19" fill="#0000cc"/>
<rect x="1003" y="121" width="1" height="18" fill="#0000cc"/>
<rect x="1002" y="123" width="3" height="14" fill="#0000cc"/>
<rect x="1007" y="120" width="1" height="29" fill="#ff0000"/>
<rect x="1006" y="124" width="3" height="8" fill="#ff0000"/>
<rect x="1011" y="100" width="1" height="46" fill="#0000cc"/>
<rect x="1010" y="130" width="3" height="3" fill="#0000cc"/>
<rect x="1015" y="126" width="1" height="11" fill="#0000cc"/>
</g>
<path d="M10 487h1v1h-1zM11 486h1v1h-1zM12 485h2v1h-2zM14 484h1v1h-1zM15 483h1v1h-1zM16 482h1v1h-1zM17 481h1v1h-1zM18 480h1v1h-1zM19 479h1v1h-1zM20 478h1v1h-1zM21 477h2v1h-2zM23 476h1v1h-1zM24 475h1v1h-1zM25 474h1v1h-1zM26 473h2v1h-2zM28 472h1v1h-1zM29 471h2v1h-2zM31 470h2v1h-2zM33 469h2v1h-2zM35 468h2v1h-2zM37 467h2v1h-2zM39 466h2v1h-2zM41 465h2v1h-2zM43 464h2v1h-2zM45 463h2v1h-2zM47 462h3v1h-3zM50 461h3v1h-3zM53 460h4v1h-4zM57 459h9v1h-9zM66 458h4v1h-4zM70 457h4v1h-4zM74 456h7v1h-7zM81 455h2v1h-2zM83 454h2v1h-2zM85 453h3v1h-3zM88 452h4v1h-4zM92 451h5v1h-5zM97 450h2v1h-2zM99 449h2v1h-2zM101 448h4v1h-4zM105 447h3v1h-3zM108 446h1v1h-1zM109 445h1v1h-1zM110 444h1v1h-1zM111 443h1v1h-1zM112 442h1v1h-1zM113 441h2v1h-2zM115 440h1v1h-1zM116 439h2v1h-2zM118 438h1v1h-1zM119 437h1v1h-1zM120 436h2v1h-2zM122 435h1v1h-1zM123 434h1v1h-1zM124 433h1v1h-1zM125 432h1v1h-1zM126 431h2v1h-2zM128 430h1v1h-1zM129 429h1v1h-1zM130 428h1v1h-1zM131 427h1v1h-1zM132 426h1v1h-1zM133 425h2v1h-2zM135 424h1v1h-1zM136 423h1v1h-1zM137 422h2v1h-2zM139 421h1v1h-1zM140 420h2v1h-2zM142 419h1v1h-1zM143 418h2v1h-2zM145 417h2v1h-2zM147 416h2v1h-2zM149 415h1v1h-1zM150 414h1v1h-1zM151 413h1v1h-1zM152 412h1v1h-1zM153 411h2v1h-2zM155 410h1v1h-1zM156 409h1v1h-1zM157 408h1v1h-1zM158 407h1v1h-1zM159 406h2v1h-2zM161 405h2v1h-2zM163 404h1v1h-1zM164 403h1v1h-1zM165 402h2v1h-2zM167 401h1v1h-1zM168 400h1v1h-1zM169 399h1v1h-1zM170 398h2v1h-2zM172 397h2v1h-2zM174 396h1v1h-1zM175 395h2v1h-2zM177 394h4v1h-4zM181 393h4v1h-4zM185 392h1v1h-1zM186 391h2v1h-2zM188 390h2v1h-2zM190 389h1v1h-1zM191 388h1v1h-1zM192 387h1v1h-1zM193 386h1v1h-1zM194 385h1v1h-1zM195 384h1v1h-1zM196 383h1v1h-1zM197 382h2v1h-2zM199 381h1v1h-1zM200 380h2v1h-2zM202 379h1v1h-1zM203 378h2v1h-2zM205 377h2v1h-2zM207 376h2v1h-2zM209 375h2v1h-2zM211 374h2v1h-2zM213 373h7v1h-7zM220 372h1v1h-1zM221 371h2v1h-2zM223 370h1v1h-1zM224 369h3v1h-3zM227 368h6v1h-6zM233 367h2v1h-2zM235 366h8v1h-8zM243 365h2v1h-2zM245 366h7v1h-7zM252 365h2v1h-2zM254 364h13v1h-13zM267 363h7v1h-7zM274 362h8v1h-8zM282 361h2v1h-2zM284 360h2v1h-2zM286 359h9v1h-9zM295 360h3v1h-3zM298 361h1v1h-1zM299 362h2v1h-2zM301 363h2v1h-2zM303 364h2v1h-2zM305 365h1v1h-1zM306 366h2v1h-2zM308 367h2v1h-2zM310 368h2v1h-2zM312 369h2v1h-2zM314 370h2v1h-2zM316 371h1v1h-1zM317 372h2v1h-2zM319 373h2v1h-2zM321 374h2v1h-2zM323 375h2v1h-2zM325 376h1v1h-1zM326 377h2v1h-2zM328 378h2v1h-2zM330 379h1v1h-1zM331 380h2v1h-2zM333 381h2v1h-2zM335 382h1v1h-1zM336 383h2v1h-2zM338 384h3v1h-3zM341 385h2v1h-2zM343 386h8v1h-8zM351 387h5v1h-5zM356 388h4v1h-4zM360 389h4v1h-4zM364 390h3v1h-3zM367 391h4v1h-4zM371 392h3v1h-3zM374 393h8v1h-8zM382 394h7v1h-7zM389 395h3v1h-3zM392 396h4v1h-4zM396 397h2v1h-2zM398 398h3v1h-3zM401 399h2v1h-2zM403 400h2v1h-2zM405 401h18v1h-18zM423 400h5v1h-5zM428 399h3v1h-3zM431 398h5v1h-5zM436 397h9v1h-9zM445 396h6v1h-6zM451 395h4v1h-4zM455 394h17v1h-17zM472 395h5v1h-5zM477 396h2v1h-2zM479 397h3v1h-3zM482 398h2v1h-2zM484 399h3v1h-3zM487 400h2v1h-2zM489 401h3v1h-3zM492 402h6v1h-6zM498 403h3v1h-3zM501 404h6v1h-6zM507 405h6v1h-6zM513 406h2v1h-2zM515 407h2v1h-2zM517 408h2v1h-2zM519 409h3v1h-3zM522 410h3v1h-3zM525 411h2v1h-2zM527 412h4v1h-4zM531 413h4v1h-4zM535 414h4v1h-4zM539 415h3v1h-3zM542 416h3v1h-3zM545 417h4v1h-4zM549 418h6v1h-6zM555 419h17v1h-17zM572 420h20v1h-20zM592 419h2v1h-2zM594 418h2v1h-2zM596 417h4v1h-4zM600 416h5v1h-5zM605 415h9v1h-9zM614 416h3v1h-3zM617 417h2v1h-2zM619 418h3v1h-3zM622 419h7v1h-7zM629 420h2v1h-2zM631 421h3v1h-3zM634 422h5v1h-5zM639 423h2v1h-2zM641 424h1v1h-1zM642 425h1v1h-1zM643 426h1v1h-1zM644 427h1v1h-1zM645 428h1v1h-1zM646 429h1v1h-1zM647 430h2v1h-2zM649 431h2v1h-2zM651 432h1v1h-1zM652 433h2v1h-2zM654 434h2v1h-2zM656 435h2v1h-2zM658 436h1v1h-1zM659 437h2v1h-2zM661 438h2v1h-2zM663 439h2v1h-2zM665 440h2v1h-2zM667 441h1v1h-1zM668 442h2v1h-2zM670 443h2v1h-2zM672 444h2v1h-2zM674 445h1v1h-1zM675 446h3v1h-3zM678 447h4v1h-4zM682 448h4v1h-4zM686 447h6v1h-6zM692 446h4v1h-4zM696 445h2v1h-2zM698 444h3v1h-3zM701 443h2v1h-2zM703 442h2v1h-2zM705 441h2v1h-2zM707 440h1v1h-1zM708 439h1v1h-1zM709 438h1v1h-1zM710 437h2v1h-2zM712 436h1v1h-1zM713 435h2v1h-2zM715 434h2v1h-2zM717 433h1v1h-1zM718 432h2v1h-2zM720 431h3v1h-3zM723 430h3v1h-3zM726 429h2v1h-2zM728 428h1v1h-1zM729 427h2v1h-2zM731 426h1v1h-1zM732 425h2v1h-2zM734 424h1v1h-1zM735 423h2v1h-2zM737 422h1v1h-1zM738 421h1v1h-1zM739 420h2v1h-2zM741 419h1v1h-1zM742 418h1v1h-1zM743 416h1v1h-1zM743 417h1v1h-1zM744 415h1v1h-1zM745 414h1v1h-1zM746 413h2v1h-2zM748 412h2v1h-2zM750 411h2v1h-2zM752 410h1v1h-1zM753 409h2v1h-2zM755 408h2v1h-2zM757 407h2v1h-2zM759 406h1v1h-1zM760 405h2v1h-2zM762 404h1v1h-1zM763 403h2v1h-2zM765 402h2v1h-2zM767 401h1v1h-1zM768 400h2v1h-2zM770 399h1v1h-1zM771 398h1v1h-1zM772 397h1v1h-1zM773 396h2v1h-2zM775 395h1v1h-1zM776 394h1v1h-1zM777 393h1v1h-1zM778 392h1v1h-1zM779 391h1v1h-1zM780 390h1v1h-1zM781 389h1v1h-1zM782 388h1v1h-1zM783 387h1v1h-1zM784 386h1v1h-1zM785 385h1v1h-1zM786 384h1v1h-1zM787 382h1v1h-1zM787 383h1v1h-1zM788 381h1v1h-1zM789 380h1v1h-1zM790 378h1v1h-1zM790 379h1v1h-1zM791 377h1v1h-1zM792 376h1v1h-1zM793 374h1v1h-1zM793 375h1v1h-1zM794 373h1v1h-1zM795 371h1v1h-1zM795 372h1v1h-1zM796 370h1v1h-1zM797 368h1v1h-1zM797 369h1v1h-1zM798 367h1v1h-1zM799 366h1v1h-1zM800 364h1v1h-1zM800 365h1v1h-1zM801 363h1v1h-1zM802 361h1v1h-1zM802 362h1v1h-1zM803 360h1v1h-1zM804 359h1v1h-1zM805 357h1v1h-1zM805 358h1v1h-1zM806 356h1v1h-1zM807 355h1v1h-1zM808 354h1v1h-1zM809 353h1v1h-1zM810 352h1v1h-1zM811 351h1v1h-1zM812 349h1v1h-1zM812 350h1v1h-1zM813 348h2v1h-2zM815 347h1v1h-1zM816 346h1v1h-1zM817 345h2v1h-2zM819 344h1v1h-1zM820 343h1v1h-1zM821 342h1v1h-1zM822 341h1v1h-1zM823 340h1v1h-1zM824 338h1v1h-1zM824 339h1v1h-1zM825 337h1v1h-1zM826 336h1v1h-1zM827 335h1v1h-1zM828 333h1v1h-1zM828 334h1v1h-1zM829 330h1v1h-1zM829 331h1v2h-1zM830 328h1v1h-1zM830 329h1v1h-1zM831 326h1v1h-1zM831 327h1v1h-1zM832 324h1v1h-1zM832 325h1v1h-1zM833 322h1v1h-1zM833 323h1v1h-1zM834 320h1v1h-1zM834 321h1v1h-1zM835 318h1v1h-1zM835 319h1v1h-1zM836 316h1v1h-1zM836 317h1v1h-1zM837 314h1v1h-1zM837 315h1v1h-1zM838 313h1v1h-1zM839 311h1v1h-1zM839 312h1v1h-1zM840 309h1v1h-1zM840 310h1v1h-1zM841 307h1v1h-1zM841 308h1v1h-1zM842 306h1v1h-1zM843 305h1v1h-1zM844 303h1v1h-1zM844 304h1v1h-1zM845 302h1v1h-1zM846 300h1v1h-1zM846 301h1v1h-1zM847 299h1v1h-1zM848 297h1v1h-1zM848 298h1v1h-1zM849 296h1v1h-1zM850 295h1v1h-1zM851 294h1v1h-1zM852 293h1v1h-1zM853 291h1v1h-1zM853 292h1v1h-1zM854 290h1v1h-1zM855 289h1v1h-1zM856 288h1v1h-1zM857 286h1v1h-1zM857 287h1v1h-1zM858 284h1v1h-1zM858 285h1v1h-1zM859 282h1v1h-1zM859 283h1v1h-1zM860 280h1v1h-1zM860 281h1v1h-1zM861 278h1v1h-1zM861 279h1v1h-1zM862 276h1v1h-1zM862 277h1v1h-1zM863 274h1v1h-1zM863 275h1v1h-1zM864 272h1v1h-1zM864 273h1v1h-1zM865 270h1v1h-1zM865 271h1v1h-1zM866 269h1v1h-1zM867 267h1v1h-1zM867 268h1v1h-1zM868 266h1v1h-1zM869 264h1v1h-1zM869 265h1v1h-1zM870 262h1v1h-1zM870 263h1v1h-1zM871 260h1v1h-1zM871 261h1v1h-1zM872 258h1v1h-1zM872 259h1v1h-1zM873 255h1v1h-1zM873 256h1v2h-1zM874 253h1v1h-1zM874 254h1v1h-1zM875 251h1v1h-1zM875 252h1v1h-1zM876 249h1v1h-1zM876 250h1v1h-1zM877 247h1v1h-1zM877 248h1v1h-1zM878 246h1v1h-1zM879 244h1v1h-1zM879 245h1v1h-1zM880 243h1v1h-1zM881 242h1v1h-1zM882 241h1v1h-1zM883 238h1v1h-1zM883 239h1v2h-1zM884 236h1v1h-1zM884 237h1v1h-1zM885 234h1v1h-1zM885 235h1v1h-1zM886 232h1v1h-1zM886 233h1v1h-1zM887 229h1v1h-1zM887 230h1v2h-1zM888 228h1v1h-1zM889 226h1v1h-1zM889 227h1v1h-1zM890 225h1v1h-1zM891 223h1v1h-1zM891 224h1v1h-1zM892 222h2v1h-2zM894 221h2v1h-2zM896 220h1v1h-1zM897 219h2v1h-2zM899 218h1v1h-1zM900 217h1v1h-1zM901 216h1v1h-1zM902 215h1v1h-1zM903 214h1v1h-1zM904 213h1v1h-1zM905 212h1v1h-1zM906 211h2v1h-2zM908 210h1v1h-1zM909 209h2v1h-2zM911 208h1v1h-1zM912 207h1v1h-1zM913 206h1v1h-1zM914 205h1v1h-1zM915 204h1v1h-1zM916 202h1v1h-1zM916 203h1v1h-1zM917 201h1v1h-1zM918 200h1v1h-1zM919 199h1v1h-1zM920 198h1v1h-1zM921 197h1v1h-1zM922 196h2v1h-2zM924 195h2v1h-2zM926 194h2v1h-2zM928 193h3v1h-3zM931 192h1v1h-1zM932 191h2v1h-2zM934 190h2v1h-2zM936 189h2v1h-2zM938 188h2v1h-2zM940 187h1v1h-1zM941 186h2v1h-2zM943 185h1v1h-1zM944 184h3v1h-3zM947 183h3v1h-3zM950 182h4v1h-4zM954 181h4v1h-4zM958 179h1v1h-1zM958 180h1v1h-1zM959 178h1v1h-1zM960 177h1v1h-1zM961 176h1v1h-1zM962 175h1v1h-1zM963 174h2v1h-2zM965 173h1v1h-1zM966 172h2v1h-2zM968 171h2v1h-2zM970 170h4v1h-4zM974 169h2v1h-2zM976 168h2v1h-2zM978 167h1v1h-1zM979 166h2v1h-2zM981 165h8v1h-8zM989 164h8v1h-8zM997 163h2v1h-2zM999 162h2v1h-2zM1001 161h2v1h-2zM1003 160h2v1h-2zM1005 159h3v1h-3zM1008 158h2v1h-2zM1010 157h3v1h-3zM1013 156h3v1h-3z" fill="#a52a2a" shape-rendering="crispEdges"/>
<g shape-rendering="crispEdges">
<rect x="1" y="30" width="1025" height="1" fill="#000"/>
<rect x="1" y="544" width="1025" height="1" fill="#000"/>
<rect x="1" y="30" width="1" height="515" fill="#000"/>
<rect x="1025" y="30" width="1" height="515" fill="#000"/>
<rect x="1026" y="33" width="2" height="1" fill="#000"/>
<rect x="0" y="33" width="1" height="1" fill="#000"/>
<rect x="1026" y="117" width="2" height="1" fill="#000"/>
<rect x="0" y="117" width="1" height="1" fill="#000"/>
<rect x="1026" y="200" width="2" height="1" fill="#000"/>
<rect x="0" y="200" width="1" height="1" fill="#000"/>
<rect x="1026" y="284" width="2" height="1" fill="#000"/>
<rect x="0" y="284" width="1" height="1" fill="#000"/>
<rect x="1026" y="368" width="2" height="1" fill="#000"/>
<rect x="0" y="368" width="1" height="1" fill="#000"/>
<rect x="1026" y="451" width="2" height="1" fill="#000"/>
<rect x="0" y="451" width="1" height="1" fill="#000"/>
<rect x="1026" y="535" width="2" height="1" fill="#000"/>
<rect x="0" y="535" width="1" height="1" fill="#000"/>
<rect x="1026" y="41" width="1" height="1" fill="#000"/>
<rect x="0" y="41" width="1" height="1" fill="#000"/>
<rect x="1026" y="49" width="1" height="1" fill="#000"/>
<rect x="0" y="49" width="1" height="1" fill="#000"/>
<rect x="1026" y="57" width="1" height="1" fill="#000"/>
<rect x="0" y="57" width="1" height="1" fill="#000"/>
<rect x="1026" y="66" width="1" height="1" fill="#000"/>
<rect x="0" y="66" width="1" height="1" fill="#000"/>
<rect x="1026" y="74" width="1" height="1" fill="#000"/>
<rect x="0" y="74" width="1" height="1" fill="#000"/>
<rect x="1026" y="82" width="1" height="1" fill="#000"/>
<rect x="0" y="82" width="1" height="1" fill="#000"/>
<rect x="1026" y="90" width="1" height="1" fill="#000"/>
<rect x="0" y="90" width="1" height="1" fill="#000"/>
<rect x="1026" y="99" width="1" height="1" fill="#000"/>
<rect x="0" y="99" width="1" height="1" fill="#000"/>
<rect x="1026" y="107" width="1" height="1" fill="#000"/>
<rect x="0" y="107" width="1" height="1" fill="#000"/>
<rect x="1026" y="125" width="1" height="1" fill="#000"/>
<rect x="0" y="125" width="1" height="1" fill="#000"/>
<rect x="1026" y="133" width="1" height="1" fill="#000"/>
<rect x="0" y="133" width="1" height="1" fill="#000"/>
<rect x="1026" y="141" width="1" height="1" fill="#000"/>
<rect x="0" y="141" width="1" height="1" fill="#000"/>
<rect x="1026" y="150" width="1" height="1" fill="#000"/>
<rect x="0" y="150" width="1" height="1" fill="#000"/>
<rect x="1026" y="158" width="1" height="1" fill="#000"/>
<rect x="0" y="158" width="1" height="1" fill="#000"/>
<rect x="1026" y="166" width="1" height="1" fill="#000"/>
<rect x="0" y="166" width="1" height="1" fill="#000"/>
<rect x="1026" y="174" width="1" height="1" fill="#000"/>
<rect x="0" y="174" width="1" height="1" fill="#000"/>
<rect x="1026" y="183" width="1" height="1" fill="#000"/>
<rect x="0" y="183" width="1" height="1" fill="#000"/>
<rect x="1026" y="191" width="1" height="1" fill="#000"/>
<rect x="0" y="191" width="1" height="1" fill="#000"/>
<rect x="1026" y="208" width="1" height="1" fill="#000"/>
<rect x="0" y="208" width="1" height="1" fill="#000"/>
<rect x="1026" y="216" width="1" height="1" fill="#000"/>
<rect x="0" y="216" width="1" height="1" fill="#000"/>
<rect x="1026" y="224" width="1" height="1" fill="#000"/>
<rect x="0" y="224" width="1" height="1" fill="#000"/>
<rect x="1026" y="233" width="1" height="1" fill="#000"/>
<rect x="0" y="233" width="1" height="1" fill="#000"/>
<rect x="1026" y="241" width="1" height="1" fill="#000"/>
<rect x="0" y="241" width="1" height="1" fill="#000"/>
<rect x="1026" y="249" width="1" height="1" fill="#000"/>
<rect x="0" y="249" width="1" height="1" fill="#000"/>
<rect x="1026" y="257" width="1" height="1" fill="#000"/>
<rect x="0" y="257" width="1" height="1" fill="#000"/>
<rect x="1026" y="266" width="1" height="1" fill="#000"/>
<rect x="0" y="266" width="1" height="1" fill="#000"/>
<rect x="1026" y="274" width="1" height="1" fill="#000"/>
<rect x="0" y="274" width="1" height="1" fill="#000"/>
<rect x="1026" y="292" width="1" height="1" fill="#000"/>
<rect x="0" y="292" width="1" height="1" fill="#000"/>
<rect x="1026" y="300" width="1" height="1" fill="#000"/>
<rect x="0" y="300" width="1" height="1" fill="#000"/>
<rect x="1026" y="308" width="1" height="1" fill="#000"/>
<rect x="0" y="308" width="1" height="1" fill="#000"/>
<rect x="1026" y="317" width="1" height="1" fill="#000"/>
<rect x="0" y="317" width="1" height="1" fill="#000"/>
<rect x="1026" y="325" width="1" height="1" fill="#000"/>
<rect x="0" y="325" width="1" height="1" fill="#000"/>
<rect x="1026" y="333" width="1" height="1" fill="#000"/>
<rect x="0" y="333" width="1" height="1" fill="#000"/>
<rect x="1026" y="341" width="1" height="1" fill="#000"/>
<rect x="0" y="341" width="1" height="1" fill="#000"/>
<rect x="1026" y="350" width="1" height="1" fill="#000"/>
<rect x="0" y="350" width="1" height="1" fill="#000"/>
<rect x="1026" y="358" width="1" height="1" fill="#000"/>
<rect x="0" y="358" width="1" height="1" fill="#000"/>
<rect x="1026" y="376" width="1" height="1" fill="#000"/>
<rect x="0" y="376" width="1" height="1" fill="#000"/>
<rect x="1026" y="384" width="1" height="1" fill="#000"/>
<rect x="0" y="384" width="1" height="1" fill="#000"/>
<rect x="1026" y="392" width="1" height="1" fill="#000"/>
<rect x="0" y="392" width="1" height="1" fill="#000"/>
<rect x="1026" y="401" width="1" height="1" fill="#000"/>
<rect x="0" y="401" width="1" height="1" fill="#000"/>
<rect x="1026" y="409" width="1" height="1" fill="#000"/>
<rect x="0" y="409" width="1" height="1" fill="#000"/>
<rect x="1026" y="417" width="1" height="1" fill="#000"/>
<rect x="0" y="417" width="1" height="1" fill="#000"/>
<rect x="1026" y="425" width="1" height="1" fill="#000"/>
<rect x="0" y="425" width="1" height="1" fill="#000"/>
<rect x="1026" y="434" width="1" height="1" fill="#000"/>
<rect x="0" y="434" width="1" height="1" fill="#000"/>
<rect x="1026" y="442" width="1" height="1" fill="#000"/>
<rect x="0" y="442" width="1" height="1" fill="#000"/>
<rect x="1026" y="459" width="1" height="1" fill="#000"/>
<rect x="0" y="459" width="1" height="1" fill="#000"/>
<rect x="1026" y="467" width="1" height="1" fill="#000"/>
<rect x="0" y="467" width="1" height="1" fill="#000"/>
<rect x="1026" y="475" width="1" height="1" fill="#000"/>
<rect x="0" y="475" width="1" height="1" fill="#000"/>
<rect x="1026" y="484" width="1" height="1" fill="#000"/>
<rect x="0" y="484" width="1" height="1" fill="#000"/>
<rect x="1026" y="492" width="1" height="1" fill="#000"/>
<rect x="0" y="492" width="1" height="1" fill="#000"/>
<rect x="1026" y="500" width="1" height="1" fill="#000"/>
<rect x="0" y="500" width="1" height="1" fill="#000"/>
<rect x="1026" y="508" width="1" height="1" fill="#000"/>
<rect x="0" y="508" width="1" height="1" fill="#000"/>
<rect x="1026" y="517" width="1" height="1" fill="#000"/>
<rect x="0" y="517" width="1" height="1" fill="#000"/>
<rect x="1026" y="525" width="1" height="1" fill="#000"/>
<rect x="0" y="525" width="1" height="1" fill="#000"/>
<rect x="1026" y="543" width="1" height="1" fill="#000"/>
<rect x="0" y="543" width="1" height="1" fill="#000"/>
<rect x="10" y="545" width="1" height="4" fill="#000"/>
<rect x="49" y="545" width="1" height="4" fill="#000"/>
<rect x="99" y="545" width="1" height="4" fill="#000"/>
<rect x="149" y="545" width="1" height="4" fill="#000"/>
<rect x="199" y="545" width="1" height="4" fill="#000"/>
<rect x="250" y="545" width="1" height="4" fill="#000"/>
<rect x="300" y="545" width="1" height="4" fill="#000"/>
<rect x="350" y="545" width="1" height="4" fill="#000"/>
<rect x="404" y="545" width="1" height="4" fill="#000"/>
<rect x="451" y="545" width="1" height="4" fill="#000"/>
<rect x="501" y="545" width="1" height="4" fill="#000"/>
<rect x="555" y="545" width="1" height="4" fill="#000"/>
<rect x="605" y="545" width="1" height="4" fill="#000"/>
<rect x="656" y="545" width="1" height="4" fill="#000"/>
<rect x="706" y="545" width="1" height="4" fill="#000"/>
<rect x="756" y="545" width="1" height="4" fill="#000"/>
<rect x="806" y="545" width="1" height="4" fill="#000"/>
<rect x="857" y="545" width="1" height="4" fill="#000"/>
<rect x="907" y="545" width="1" height="4" fill="#000"/>
<rect x="957" y="545" width="1" height="4" fill="#000"/>
<rect x="1007" y="545" width="1" height="4" fill="#000"/>
</g>
<defs><filter id="f" x="0" y="0" width="1075" height="600" filterUnits="userSpaceOnUse"><feOffset dx="0" dy="0"/></filter></defs>
<g filter="url(#f)">
<text stroke="#000" stroke-width="0.18" x="10.09" y="20.7" font-size="17" fill="#000" textLength="58.71" lengthAdjust="spacingAndGlyphs">Copper</text>
<text stroke="#000" stroke-width="0.18" x="73.85" y="20.7" font-size="17" fill="#000" textLength="53.5" lengthAdjust="spacingAndGlyphs">(CMX)</text>
<text stroke="#000" stroke-width="0.18" x="132.86" y="20.7" font-size="17" fill="#000" textLength="43.83" lengthAdjust="spacingAndGlyphs">(HG1</text>
<text stroke="#000" stroke-width="0.18" x="182.12" y="20.7" font-size="17" fill="#000" textLength="51.79" lengthAdjust="spacingAndGlyphs">COMB</text>
<text stroke="#000" stroke-width="0.18" x="238.94" y="20.7" font-size="17" fill="#000" textLength="79.21" lengthAdjust="spacingAndGlyphs">COMDTY)</text>
<text stroke="#000" stroke-width="0.18" x="324.76" y="20.7" font-size="17" fill="#000" textLength="58.69" lengthAdjust="spacingAndGlyphs">443.20</text>
<text x="389.57" y="20.7" font-size="17" fill="#0000ff" textLength="36.62" lengthAdjust="spacingAndGlyphs">1.15</text>
<text x="984.72" y="19.8" font-size="15.7" fill="#000" textLength="89.46" lengthAdjust="spacingAndGlyphs">2022-01-17</text>
<rect x="10" y="31" width="50" height="17" fill="#fff"/>
<rect x="10" y="51" width="62" height="17" fill="#fff"/>
<text x="10.03" y="44.3" font-size="13.7" fill="#0000ff" textLength="49.1" lengthAdjust="spacingAndGlyphs">Weekly</text>
<text x="9.05" y="64.4" font-size="13.6" fill="#a52a2a" textLength="61.74" lengthAdjust="spacingAndGlyphs">EMA 200</text>
<text x="1030.13" y="37.9" font-size="12.5" fill="#000" textLength="23.62" lengthAdjust="spacingAndGlyphs">500</text>
<text x="1030.38" y="121.9" font-size="12.5" fill="#000" textLength="23.37" lengthAdjust="spacingAndGlyphs">450</text>
<text x="1030.38" y="204.9" font-size="12.5" fill="#000" textLength="23.37" lengthAdjust="spacingAndGlyphs">400</text>
<text x="1030.16" y="288.9" font-size="12.5" fill="#000" textLength="23.59" lengthAdjust="spacingAndGlyphs">350</text>
<text x="1030.16" y="372.9" font-size="12.5" fill="#000" textLength="23.59" lengthAdjust="spacingAndGlyphs">300</text>
<text x="1029.98" y="455.9" font-size="12.5" fill="#000" textLength="23.77" lengthAdjust="spacingAndGlyphs">250</text>
<text x="1029.98" y="539.9" font-size="12.5" fill="#000" textLength="23.77" lengthAdjust="spacingAndGlyphs">200</text>
<text x="40.17" y="562.6" font-size="12.7" fill="#000" textLength="21.56" lengthAdjust="spacingAndGlyphs">Apr</text>
<text x="93.31" y="562.6" font-size="12.7" fill="#000" textLength="15.5" lengthAdjust="spacingAndGlyphs">Jul</text>
<text x="140.07" y="562.6" font-size="12.7" fill="#000" textLength="20.83" lengthAdjust="spacingAndGlyphs">Oct</text>
<text x="185.09" y="562.6" font-size="12.7" fill="#000" textLength="31.53" lengthAdjust="spacingAndGlyphs">2018</text>
<text x="241.17" y="562.6" font-size="12.7" fill="#000" textLength="21.56" lengthAdjust="spacingAndGlyphs">Apr</text>
<text x="294.31" y="562.6" font-size="12.7" fill="#000" textLength="15.5" lengthAdjust="spacingAndGlyphs">Jul</text>
<text x="341.07" y="562.6" font-size="12.7" fill="#000" textLength="20.83" lengthAdjust="spacingAndGlyphs">Oct</text>
<text x="390.09" y="562.6" font-size="12.7" fill="#000" textLength="31.59" lengthAdjust="spacingAndGlyphs">2019</text>
<text x="442.17" y="562.6" font-size="12.7" fill="#000" textLength="21.56" lengthAdjust="spacingAndGlyphs">Apr</text>
<text x="495.31" y="562.6" font-size="12.7" fill="#000" textLength="15.5" lengthAdjust="spacingAndGlyphs">Jul</text>
<text x="546.07" y="562.6" font-size="12.7" fill="#000" textLength="20.83" lengthAdjust="spacingAndGlyphs">Oct</text>
<text x="591.09" y="562.6" font-size="12.7" fill="#000" textLength="31.46" lengthAdjust="spacingAndGlyphs">2020</text>
<text x="647.17" y="562.6" font-size="12.7" fill="#000" textLength="21.56" lengthAdjust="spacingAndGlyphs">Apr</text>
<text x="700.31" y="562.6" font-size="12.7" fill="#000" textLength="15.5" lengthAdjust="spacingAndGlyphs">Jul</text>
<text x="747.07" y="562.6" font-size="12.7" fill="#000" textLength="20.83" lengthAdjust="spacingAndGlyphs">Oct</text>
<text x="792.09" y="562.6" font-size="12.7" fill="#000" textLength="31.61" lengthAdjust="spacingAndGlyphs">2021</text>
<text x="848.17" y="562.6" font-size="12.7" fill="#000" textLength="21.56" lengthAdjust="spacingAndGlyphs">Apr</text>
<text x="901.31" y="562.6" font-size="12.7" fill="#000" textLength="15.5" lengthAdjust="spacingAndGlyphs">Jul</text>
<text x="948.07" y="562.6" font-size="12.7" fill="#000" textLength="20.83" lengthAdjust="spacingAndGlyphs">Oct</text>
<text x="1.03" y="590" font-size="15" fill="#0000ff" textLength="43.33" lengthAdjust="spacingAndGlyphs">www.</text>
<text x="44.77" y="590" font-size="15" fill="#0000ff" textLength="130.77" lengthAdjust="spacingAndGlyphs">fullertreacymoney</text>
<text x="175.55" y="590" font-size="15" fill="#0000ff" textLength="36.88" lengthAdjust="spacingAndGlyphs">.com</text>
<text x="625.01" y="589.8" font-size="13.6" fill="#8f8f8f" textLength="24.67" lengthAdjust="spacingAndGlyphs">This</text>
<text x="654.62" y="589.8" font-size="13.6" fill="#8f8f8f" textLength="46.59" lengthAdjust="spacingAndGlyphs">website</text>
<text x="703.86" y="589.8" font-size="13.6" fill="#8f8f8f" textLength="11.2" lengthAdjust="spacingAndGlyphs">is</text>
<text x="721.28" y="589.8" font-size="13.6" fill="#8f8f8f" textLength="10.54" lengthAdjust="spacingAndGlyphs">©</text>
<text x="736.29" y="589.8" font-size="13.6" fill="#8f8f8f" textLength="67.72" lengthAdjust="spacingAndGlyphs">2008-2022</text>
<text x="807.5" y="589.8" font-size="13.6" fill="#8f8f8f" textLength="33.42" lengthAdjust="spacingAndGlyphs">Fuller</text>
<text x="845.8" y="589.8" font-size="13.6" fill="#8f8f8f" textLength="39.92" lengthAdjust="spacingAndGlyphs">Treacy</text>
<text x="890.5" y="589.8" font-size="13.6" fill="#8f8f8f" textLength="40.12" lengthAdjust="spacingAndGlyphs">Money</text>
<text x="935.01" y="589.8" font-size="13.6" fill="#8f8f8f" textLength="21.45" lengthAdjust="spacingAndGlyphs">plc.</text>
<text x="961.58" y="589.8" font-size="13.6" fill="#8f8f8f" textLength="13.65" lengthAdjust="spacingAndGlyphs">All</text>
<text x="978.42" y="589.8" font-size="13.6" fill="#8f8f8f" textLength="36.11" lengthAdjust="spacingAndGlyphs">rights</text>
<text x="1018.46" y="589.8" font-size="13.6" fill="#8f8f8f" textLength="55.36" lengthAdjust="spacingAndGlyphs">reserved</text>
</g>
</svg>
</body></html>
